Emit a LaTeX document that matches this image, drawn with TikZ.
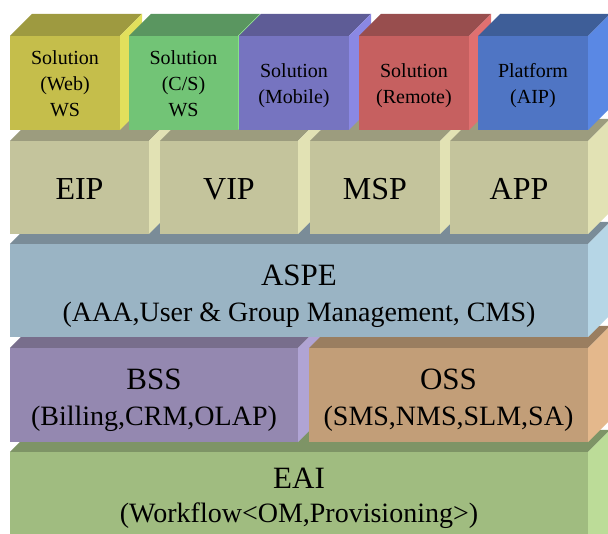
\documentclass[tikz,border=0pt]{standalone}
\usepackage{fontspec}
\setmainfont{Liberation Serif}
\definecolor{yelF}{RGB}{197,190,75}\definecolor{yelT}{RGB}{158,154,64}\definecolor{yelR}{RGB}{226,224,92}
\definecolor{grnF}{RGB}{114,196,118}\definecolor{grnT}{RGB}{90,150,96}\definecolor{grnR}{RGB}{135,225,136}
\definecolor{purF}{RGB}{118,116,192}\definecolor{purT}{RGB}{94,92,150}\definecolor{purR}{RGB}{138,136,228}
\definecolor{redF}{RGB}{198,96,96}\definecolor{redT}{RGB}{152,78,78}\definecolor{redR}{RGB}{224,112,112}
\definecolor{bluF}{RGB}{79,117,196}\definecolor{bluT}{RGB}{62,94,152}\definecolor{bluR}{RGB}{90,136,228}
\definecolor{khaF}{RGB}{196,196,156}\definecolor{khaT}{RGB}{156,156,126}\definecolor{khaR}{RGB}{226,226,180}
\definecolor{aspF}{RGB}{154,180,196}\definecolor{aspT}{RGB}{122,140,152}\definecolor{aspR}{RGB}{182,214,230}
\definecolor{bssF}{RGB}{148,136,176}\definecolor{bssT}{RGB}{120,110,140}\definecolor{bssR}{RGB}{176,164,212}
\definecolor{ossF}{RGB}{194,158,120}\definecolor{ossT}{RGB}{154,126,96}\definecolor{ossR}{RGB}{228,184,140}
\definecolor{eaiF}{RGB}{160,188,128}\definecolor{eaiT}{RGB}{126,148,102}\definecolor{eaiR}{RGB}{188,220,152}
\newcommand\dd{22}
\newcommand\cubebox[5]{%
  \fill[#5F] (#1,#2) rectangle (#3,#4);
  \fill[#5T] (#1,#2) -- ({#1+\dd},{#2-\dd}) -- ({#3+\dd},{#2-\dd}) -- (#3,#2) -- cycle;
  \fill[#5R] (#3,#2) -- ({#3+\dd},{#2-\dd}) -- ({#3+\dd},{#4-\dd}) -- (#3,#4) -- cycle;}
\tikzset{
  small/.style={anchor=base,inner sep=0pt,font=\fontsize{20}{24}\selectfont},
  big/.style={anchor=base,inner sep=0pt,font=\fontsize{32}{38}\selectfont},
  title/.style={anchor=base,inner sep=0pt,font=\fontsize{31}{37}\selectfont},
  sub/.style={anchor=base,inner sep=0pt,font=\fontsize{28}{34}\selectfont}
}
\begin{document}
\begin{tikzpicture}[x=1pt,y=-1pt]
\useasboundingbox (0,0) rectangle (608,534);
\clip (0,0) rectangle (608,534);
% row 5
\cubebox{10}{452}{588}{570}{eai}
% row 4
\cubebox{10}{348}{298}{442}{bss}
\cubebox{309}{348}{588}{442}{oss}
% row 3
\cubebox{10}{244}{588}{337}{asp}
% row 2
\cubebox{10}{141}{149}{234}{kha}
\cubebox{160}{141}{298}{234}{kha}
\cubebox{310}{141}{440}{234}{kha}
\cubebox{450}{141}{588}{234}{kha}
% row 1
\cubebox{10}{36}{120}{130}{yel}
\cubebox{129}{36}{238}{130}{grn}
\cubebox{239}{36}{349}{130}{pur}
\cubebox{359}{36}{469}{130}{red}
\cubebox{478}{36}{588}{130}{blu}
% texts row 1
\node[small] (w1) at (65,65) {Solution};
\node[small] (w2) at (65,91) {(Web)};
\node[small] (w3) at (65,117) {WS};
\node[small] (c1) at (183.5,65) {Solution};
\node[small] (c2) at (183.5,91) {(C/S)};
\node[small] (c3) at (183.5,117) {WS};
\node[small] (m1) at (294,78) {Solution};
\node[small] (m2) at (294,104) {(Mobile)};
\node[small] (r1) at (414,78) {Solution};
\node[small] (r2) at (414,104) {(Remote)};
\node[small] (p1) at (533,78) {Platform};
\node[small] (p2) at (533,104) {(AIP)};
% row 2
\node[big] (eip) at (79.5,200) {EIP};
\node[big] (vip) at (229,200) {VIP};
\node[big] (msp) at (375,200) {MSP};
\node[big] (app) at (519,200) {APP};
% row 3
\node[title] (aspe) at (299,286) {ASPE};
\node[sub] (aspe2) at (299,322) {(AAA,User \& Group Management, CMS)};
% row 4
\node[title] (bss) at (154,390) {BSS};
\node[sub] (bss2) at (154,426) {(Billing,CRM,OLAP)};
\node[title] (oss) at (448.5,390) {OSS};
\node[sub] (oss2) at (448.5,426) {(SMS,NMS,SLM,SA)};
% row 5
\node[title] (eai) at (299,489) {EAI};
\node[sub] (eai2) at (299,522) {(Workflow<OM,Provisioning>)};
\end{tikzpicture}
\end{document}
